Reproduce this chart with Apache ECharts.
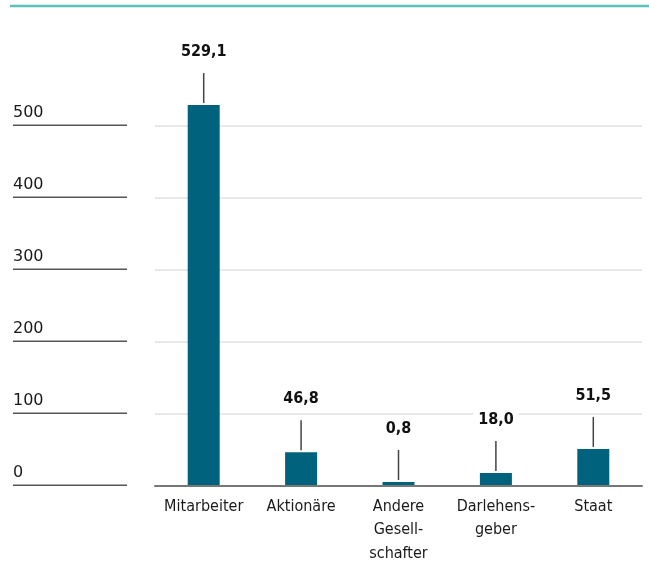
<!DOCTYPE html>
<html>
<head>
<meta charset="utf-8">
<script src="https://cdn.jsdelivr.net/npm/echarts@6/dist/echarts.min.js"></script>
<style>
  html, body { margin: 0; padding: 0; background: #fff; }
  #main { width: 649px; height: 562px; }
</style>
</head>
<body>
<div id="main"></div>
<script>
// Daten
const categories = ['Mitarbeiter', 'Aktionäre', 'Andere\nGesell-\nschafter', 'Darlehens-\ngeber', 'Staat'];
const values = [529.1, 46.8, 0.8, 18.0, 51.5];
const yMin = 0;
const yMax = 500;
const yStep = 100;

const fmt = v => v.toFixed(1).replace('.', ',');

const chart = echarts.init(document.getElementById('main'));
const option = {
  animation: false,
  textStyle: { fontFamily: 'DejaVu Sans' },
  grid: { left: 155, right: 7, top: 126, bottom: 76, outerBoundsMode: 'none' },
  graphic: [
    {
      type: 'line',
      shape: { x1: 10, y1: 6, x2: 649, y2: 6 },
      style: { stroke: '#5cc2ba', lineWidth: 2.5 }
    }
  ],
  xAxis: {
    type: 'category',
    data: categories,
    z: 3,
    axisTick: { show: false },
    axisLine: { lineStyle: { color: '#777', width: 2 } },
    axisLabel: {
      interval: 0,
      fontFamily: 'DejaVu Sans Condensed',
      fontSize: 16,
      color: '#1a1a1a',
      lineHeight: 23.5,
      margin: 9
    }
  },
  yAxis: {
    type: 'value',
    min: yMin,
    max: yMax,
    interval: yStep,
    axisLine: { show: false },
    axisTick: { show: false },
    splitLine: { lineStyle: { color: '#e0e0e0', width: 1.5 } },
    axisLabel: {
      align: 'left',
      verticalAlign: 'bottom',
      margin: 142,
      formatter: v => '{t|' + v + '}\n{u|}',
      rich: {
        t: { fontSize: 16, color: '#1a1a1a', lineHeight: 24, align: 'left' },
        u: { width: 114, height: 1.5, backgroundColor: '#555', align: 'left' }
      }
    }
  },
  series: [
    {
      type: 'bar',
      data: values,
      clip: false,
      barWidth: 32,
      barMinHeight: 4,
      itemStyle: { color: '#00627c' },
      label: {
        show: true,
        position: 'top',
        distance: 2,
        align: 'center',
        formatter: p => '{v|' + fmt(p.value) + '}\n{s|}\n{l|}',
        rich: {
          v: {
            fontFamily: 'DejaVu Sans Condensed',
            fontWeight: 'bold',
            fontSize: 16,
            color: '#111',
            lineHeight: 20,
            padding: [2, 5, 2, 5],
            backgroundColor: '#fff',
            align: 'center'
          },
          s: { height: 11, width: 1, align: 'center' },
          l: { width: 1.5, height: 30, backgroundColor: '#444', align: 'center' }
        }
      }
    }
  ]
};
chart.setOption(option);
</script>
</body>
</html>
